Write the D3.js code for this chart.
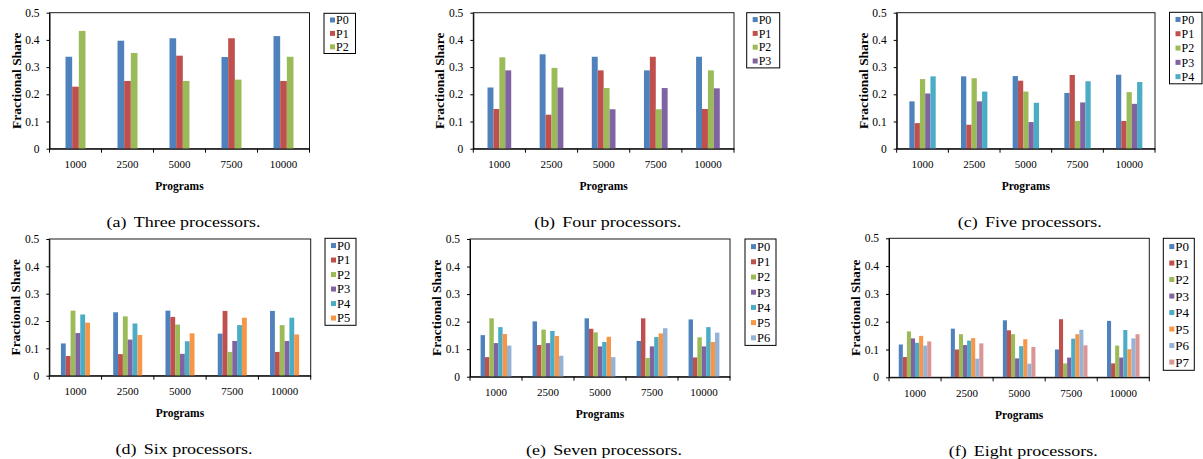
<!DOCTYPE html>
<html>
<head>
<meta charset="utf-8">
<script src="https://cdn.jsdelivr.net/npm/d3@7"></script>
<style>
  html, body { margin: 0; padding: 0; background: #fff; }
  svg { display: block; }
  text { font-family: "Liberation Serif", "Times New Roman", serif; fill: #000; }
</style>
</head>
<body>
<script>
// ---------- data ----------
const categories = ["1000", "2500", "5000", "7500", "10000"];
const seriesNames = ["P0", "P1", "P2", "P3", "P4", "P5", "P6", "P7"];
const seriesColors = ["#4F81BD", "#C0504D", "#9BBB59", "#8064A2", "#4BACC6", "#F79646", "#95B3D7", "#D99694"];
const yTickValues = [0, 0.1, 0.2, 0.3, 0.4, 0.5];
const yTickLabels = ["0", "0.1", "0.2", "0.3", "0.4", "0.5"];

// each inner array = one processor (series) across the five program counts
const threeProcessors = [
  [0.338, 0.397, 0.406, 0.337, 0.414],
  [0.228, 0.249, 0.342, 0.406, 0.249],
  [0.433, 0.352, 0.249, 0.254, 0.338]
];
const fourProcessors = [
  [0.225, 0.347, 0.338, 0.288, 0.338],
  [0.146, 0.125, 0.288, 0.338, 0.146],
  [0.336, 0.297, 0.223, 0.145, 0.288],
  [0.288, 0.225, 0.145, 0.223, 0.222]
];
const fiveProcessors = [
  [0.174, 0.266, 0.267, 0.205, 0.272],
  [0.094, 0.088, 0.250, 0.271, 0.102],
  [0.256, 0.259, 0.210, 0.102, 0.208],
  [0.203, 0.174, 0.098, 0.170, 0.165],
  [0.266, 0.210, 0.169, 0.248, 0.245]
];
const sixProcessors = [
  [0.118, 0.232, 0.238, 0.154, 0.237],
  [0.072, 0.079, 0.215, 0.237, 0.087],
  [0.238, 0.217, 0.187, 0.087, 0.185],
  [0.156, 0.132, 0.080, 0.127, 0.127],
  [0.224, 0.191, 0.126, 0.185, 0.212],
  [0.194, 0.149, 0.155, 0.212, 0.151]
];
const sevenProcessors = [
  [0.151, 0.201, 0.212, 0.130, 0.208],
  [0.071, 0.115, 0.174, 0.212, 0.070],
  [0.212, 0.171, 0.161, 0.068, 0.143],
  [0.122, 0.122, 0.110, 0.110, 0.110],
  [0.180, 0.166, 0.126, 0.144, 0.180],
  [0.155, 0.148, 0.145, 0.157, 0.126],
  [0.113, 0.076, 0.071, 0.176, 0.160]
];
const eightProcessors = [
  [0.118, 0.175, 0.205, 0.100, 0.203],
  [0.073, 0.100, 0.169, 0.209, 0.050],
  [0.165, 0.155, 0.155, 0.050, 0.114],
  [0.140, 0.116, 0.068, 0.071, 0.071],
  [0.124, 0.132, 0.112, 0.139, 0.170],
  [0.149, 0.141, 0.137, 0.155, 0.101],
  [0.114, 0.067, 0.049, 0.171, 0.140],
  [0.129, 0.122, 0.109, 0.115, 0.155]
];

const panelData = [threeProcessors, fourProcessors, fiveProcessors, sixProcessors, sevenProcessors, eightProcessors];
const captionLabels = ["(a)", "(b)", "(c)", "(d)", "(e)", "(f)"];
const captionTexts = ["Three processors.", "Four processors.", "Five processors.", "Six processors.", "Seven processors.", "Eight processors."];
const xAxisTitle = "Programs";
const yAxisTitle = "Fractional Share";

// ---------- layout (pixels) ----------
const layouts = [
  { x0: 49.5, x1: 309.5, y0: 12.7, y1: 148.7, lx: 324,    ly: 13.3,  ls: 13.4, lw: 31.5, lf: 12 },
  { x0: 473.3, x1: 734,  y0: 12.7, y1: 148.7, lx: 746.7,  ly: 12.7,  ls: 13.8, lw: 33,   lf: 12 },
  { x0: 896.7, x1: 1155, y0: 12.7, y1: 148.7, lx: 1169.5, ly: 12.3,  ls: 14.3, lw: 32.5, lf: 12 },
  { x0: 49.3, x1: 310.7, y0: 239,  y1: 375.7, lx: 325,    ly: 238.3, ls: 14.5, lw: 31,   lf: 12.5 },
  { x0: 470,  x1: 730,   y0: 239,  y1: 376.7, lx: 745,    ly: 239,   ls: 15.2, lw: 31,   lf: 12.5 },
  { x0: 889,  x1: 1149.3, y0: 238.3, y1: 377.3, lx: 1163.3, ly: 238.3, ls: 16.5, lw: 31,  lf: 13 }
];

const svg = d3.select("body").append("svg")
  .attr("width", 1203).attr("height", 459);

panelData.forEach((series, i) => {
  const L = layouts[i];
  const g = svg.append("g");
  const x = d3.scaleBand().domain(categories).range([L.x0, L.x1]).padding(0);
  const y = d3.scaleLinear().domain([0, 0.5]).range([L.y1, L.y0]);
  const n = series.length;
  const groupW = x.bandwidth() * n / (n + 4.8);
  const xs = d3.scaleBand().domain(d3.range(n)).range([0, groupW]).padding(0);

  // plot-area border
  g.append("rect")
    .attr("x", L.x0).attr("y", L.y0)
    .attr("width", L.x1 - L.x0).attr("height", L.y1 - L.y0)
    .attr("fill", "none").attr("stroke", "#1a1a1a").attr("stroke-width", 1);

  // bars
  series.forEach((vals, s) => {
    g.append("g").selectAll("rect")
      .data(vals.map((v, k) => ({ v, c: categories[k] })))
      .join("rect")
      .attr("x", d => x(d.c) + (x.bandwidth() - groupW) / 2 + xs(s))
      .attr("y", d => y(d.v))
      .attr("width", xs.bandwidth())
      .attr("height", d => y(0) - y(d.v))
      .attr("fill", seriesColors[s]);
  });

  // y axis
  const yAxis = g.append("g")
    .attr("transform", `translate(${L.x0},0)`)
    .call(d3.axisLeft(y).tickValues(yTickValues)
      .tickFormat((d, k) => yTickLabels[k])
      .tickSize(3).tickSizeOuter(0).tickPadding(7));
  yAxis.selectAll("text").style("font-family", "Liberation Serif").style("font-size", "11.5px").attr("fill", "#000");
  yAxis.selectAll("line,path").attr("stroke", "#000");

  // x axis (labels at band centres)
  const xAxis = g.append("g")
    .attr("transform", `translate(0,${L.y1})`)
    .call(d3.axisBottom(x).tickSize(0).tickSizeOuter(0).tickPadding(12));
  xAxis.selectAll("text").style("font-family", "Liberation Serif").style("font-size", "11px").attr("fill", "#000");
  xAxis.select("path").attr("stroke", "#000");

  // tick marks between categories
  const boundaries = categories.map(c => x(c)).concat([x.range()[1]]);
  g.append("g").selectAll("line").data(boundaries).join("line")
    .attr("x1", d => d).attr("x2", d => d)
    .attr("y1", L.y1).attr("y2", L.y1 + 4)
    .attr("stroke", "#000");

  // axis titles
  const cx = (L.x0 + L.x1) / 2;
  g.append("text")
    .attr("x", cx).attr("y", L.y1 + 41.5)
    .attr("text-anchor", "middle")
    .style("font-weight", "bold").style("font-size", "11.5px")
    .text(xAxisTitle);

  const cy = (L.y0 + L.y1) / 2;
  g.append("text")
    .attr("transform", `translate(${L.x0 - 29},${cy}) rotate(-90) scale(1.12,1)`)
    .attr("text-anchor", "middle")
    .style("font-weight", "bold").style("font-size", "12px")
    .text(yAxisTitle);

  // legend
  const lg = g.append("g");
  lg.append("rect")
    .attr("x", L.lx).attr("y", L.ly)
    .attr("width", L.lw).attr("height", n * L.ls)
    .attr("fill", "#fff").attr("stroke", "#000").attr("stroke-width", 1);
  const rows = lg.selectAll("g.row").data(d3.range(n)).join("g")
    .attr("transform", s => `translate(${L.lx},${L.ly + (s + 0.5) * L.ls})`);
  rows.append("rect")
    .attr("x", 6).attr("y", -2.5).attr("width", 5).attr("height", 5)
    .attr("fill", s => seriesColors[s]);
  rows.append("text")
    .attr("x", 12).attr("y", 0).attr("dy", "0.35em")
    .style("font-size", L.lf + "px")
    .text(s => seriesNames[s]);

  // caption
  const cap = g.append("g")
    .attr("transform", `translate(${cx + 4},${L.y1 + 78.6}) scale(1.2,1)`);
  const t = cap.append("text").attr("text-anchor", "middle").style("font-size", "15px");
  t.append("tspan").text(captionLabels[i]);
  t.append("tspan").attr("dx", 6).text(captionTexts[i]);
});
</script>
</body>
</html>
